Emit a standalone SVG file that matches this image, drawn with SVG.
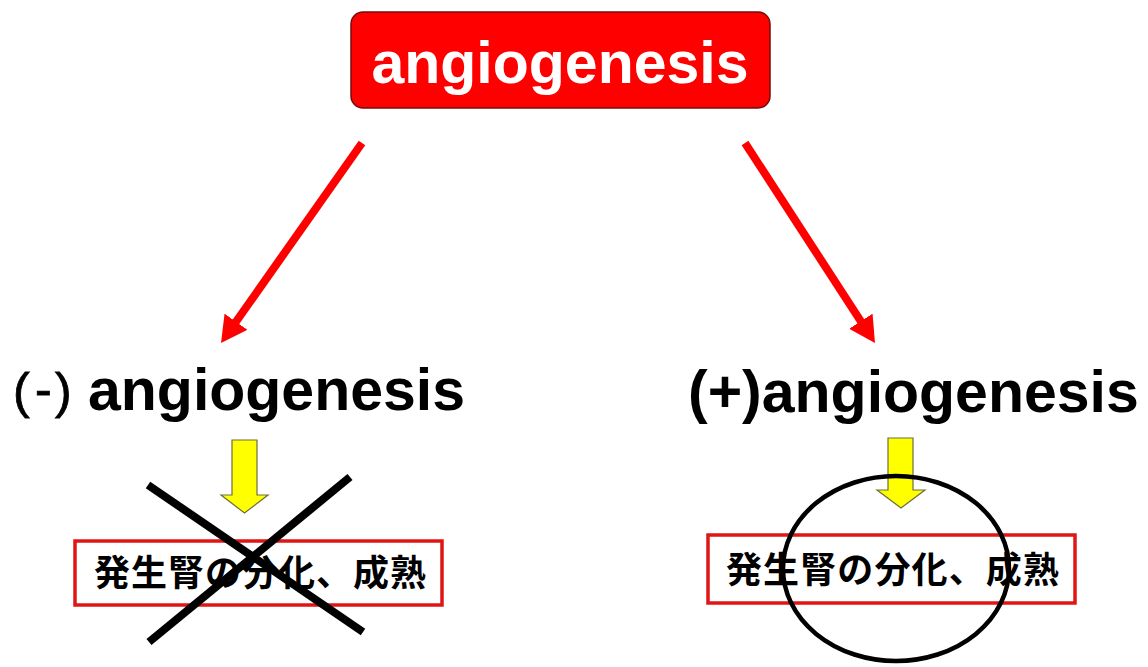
<svg xmlns="http://www.w3.org/2000/svg" width="1148" height="667" viewBox="0 0 1148 667">
  <style>
    .title { font-family: "Liberation Sans", Arial, sans-serif; font-weight: bold; font-size: 59px; }
    .paren { font-family: "Liberation Sans", Arial, sans-serif; font-weight: normal; font-size: 50px; stroke: #000; stroke-width: 0.8; }
    .jp { font-family: "Noto Sans CJK JP", "Liberation Sans", sans-serif; font-weight: bold; font-size: 36px; fill: #000; }
    .outcome { fill: #fff; stroke: #e01515; stroke-width: 3.5; }
    .down { fill: #ffff00; stroke: #6e6e3a; stroke-width: 1.2; }
    .link { stroke: #ff0000; stroke-width: 8; fill: none; marker-end: url(#redHead); }
  </style>
  <defs>
    <marker id="redHead" markerUnits="userSpaceOnUse" viewBox="0 -14 26 28" markerWidth="26" markerHeight="28" refX="4" refY="0" orient="auto">
      <path d="M0,-14 L26,0 L0,14 z" fill="#ff0000"/>
    </marker>
  </defs>

  <rect width="1148" height="667" fill="#fff"/>

  <!-- root node -->
  <g id="root">
    <rect x="351" y="12" width="419" height="96" rx="12" ry="12" fill="#ff0000" stroke="#7a0a0a" stroke-width="1.5"/>
    <text class="title" x="560" y="83" text-anchor="middle" fill="#fff">angiogenesis</text>
  </g>

  <!-- connectors from the root to both branches -->
  <g id="connectors">
    <line class="link" x1="362" y1="143" x2="233.7" y2="325.0"/>
    <line class="link" x1="745" y1="143" x2="863.0" y2="324.6"/>
  </g>

  <!-- negative branch -->
  <g id="negative">
    <text x="13" y="408" class="paren">(</text>
    <text x="35" y="406" class="paren">-</text>
    <text x="55" y="408" class="paren">)</text>
    <text class="title" x="88" y="410">angiogenesis</text>
    <path class="down" d="M232,440 L257,440 L257,495 L268,495 L244.5,513 L221,495 L232,495 z"/>
    <rect class="outcome" x="75" y="541" width="367" height="64"/>
    <text class="jp" x="94" y="586" textLength="332" lengthAdjust="spacing">発生腎の分化、成熟</text>
    <g stroke="#000" stroke-width="8" stroke-linecap="butt">
      <line x1="148" y1="485" x2="363" y2="632"/>
      <line x1="350" y1="477" x2="149" y2="642"/>
    </g>
  </g>

  <!-- positive branch -->
  <g id="positive">
    <text class="title" x="688" y="412">(+)angiogenesis</text>
    <path class="down" d="M888,438 L913,438 L913,490 L925,490 L901,508 L877,490 L888,490 z"/>
    <rect class="outcome" x="708" y="535" width="367" height="68"/>
    <text class="jp" x="726" y="583" textLength="333" lengthAdjust="spacing">発生腎の分化、成熟</text>
    <ellipse cx="896" cy="568.5" rx="113" ry="92.5" fill="none" stroke="#000" stroke-width="4.5"/>
  </g>
</svg>
